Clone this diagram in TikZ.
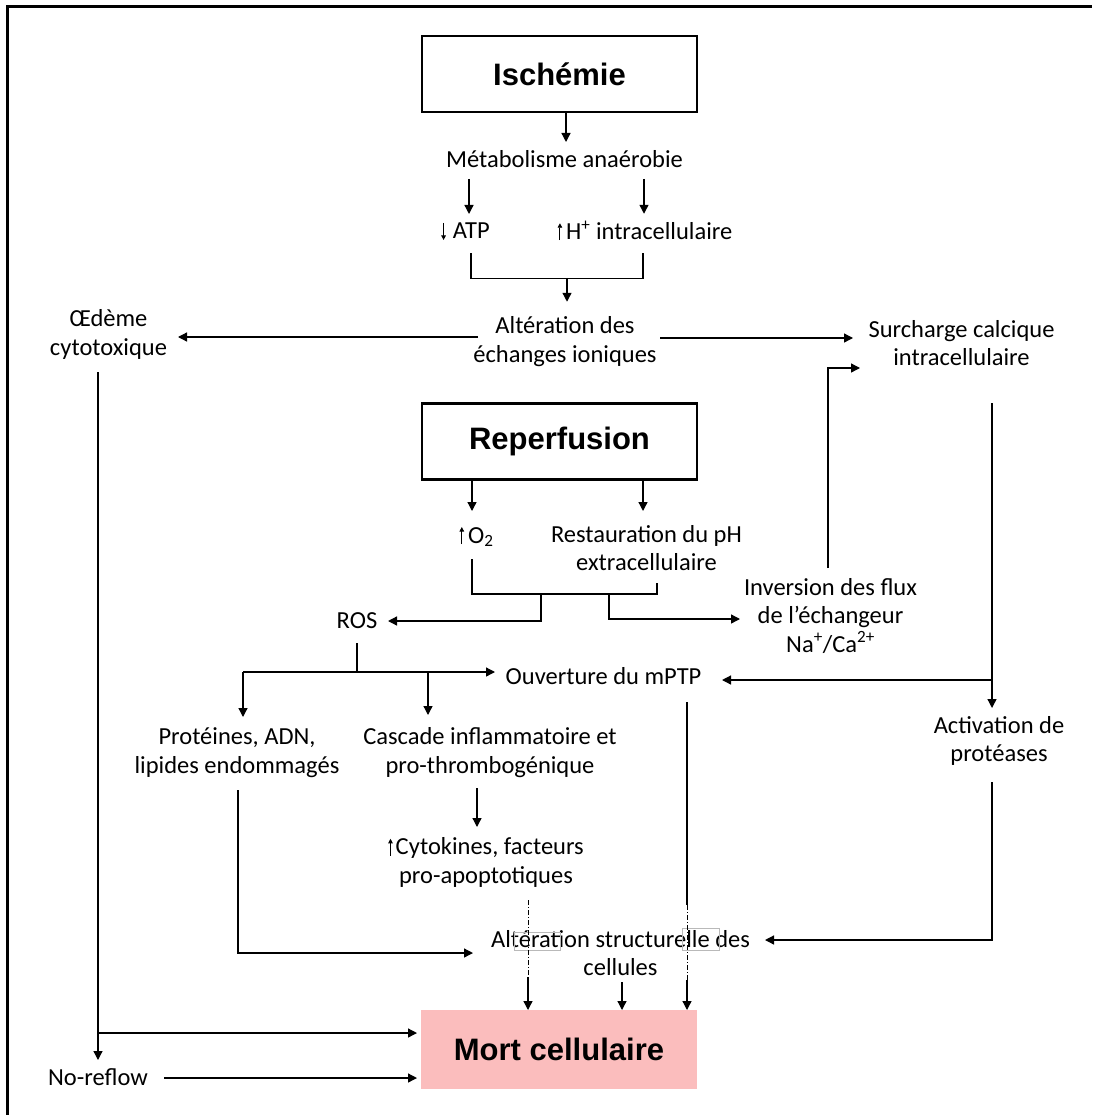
\documentclass[tikz,border=0pt]{standalone}
\usepackage{fontspec}
\setmainfont{Carlito}
\newfontfamily\titlefont{Liberation Sans}
\usetikzlibrary{arrows.meta,calc}
\definecolor{pinkbox}{RGB}{251,189,189}
\newcommand\mystrut{\rule[-6pt]{0pt}{24pt}}
\newcommand\uarr{\tikz[baseline=0pt]\draw[line width=0.9pt,-{Triangle[length=4.5pt,width=4.5pt]}] (0pt,-1pt)--(0pt,16pt);}
\newcommand\darr{\tikz[baseline=0pt]\draw[line width=0.9pt,-{Triangle[length=4.5pt,width=4.5pt]}] (0pt,16pt)--(0pt,-1pt);}
\begin{document}
\begin{tikzpicture}[x=1pt,y=-1pt,
 txt/.style={font=\fontsize{24.5}{28.5}\selectfont, align=center, inner sep=0pt, outer sep=0pt},
 titlebox/.style={line width=2.5pt, minimum width=275pt, minimum height=76pt, inner sep=0pt, font=\titlefont\bfseries\fontsize{31}{36}\selectfont},
 conn/.style={line width=1.3pt},
 arr/.style={conn, -{Triangle[length=9pt,width=9pt]}},
 dashc/.style={line width=0.8pt, dash pattern=on 5pt off 2pt on 1pt off 2pt},
 ghost/.style={draw=gray!55, line width=0.7pt}]
\useasboundingbox (0,0) rectangle (1092,1115);
\fill[white] (0,0) rectangle (1092,1115);
\draw[line width=3pt] (7,1115) -- (7,7) -- (1092,7);

% ---------- nodes ----------
\node[titlebox, draw] (isch) at (559.5,74) {Ischémie};
\node[txt] (meta) at (564.5,162) {\mystrut Métabolisme anaérobie};
\node[txt] (atp) at (465.5,233) {\mystrut\darr\hspace{7pt}ATP};
\node[txt] (hplus) at (645,233) {\mystrut\uarr\hspace{4pt}H\textsuperscript{+} intracellulaire};
\node[txt] (alt) at (565,342) {\mystrut Altération des\\\mystrut échanges ioniques};
\node[txt] (oedeme) at (108.5,335) {\mystrut Œdème\\\mystrut cytotoxique};
\node[txt] (surch) at (961.5,345.5) {\mystrut Surcharge calcique\\\mystrut intracellulaire};
\node[titlebox, draw] (rep) at (559.5,441.5) {Reperfusion};
\node[txt] (o2) at (476.5,537) {\mystrut\uarr\hspace{4pt}O\textsubscript{2}};
\node[txt] (resto) at (646.5,550.5) {\mystrut Restauration du pH\\\mystrut extracellulaire};
\node[txt] (inv) at (830.5,617.5) {\mystrut Inversion des flux\\\mystrut de l’échangeur\\\mystrut Na\textsuperscript{+}/Ca\textsuperscript{2+}};
\node[txt] (ros) at (357,622) {\mystrut ROS};
\node[txt] (mptp) at (603.5,678) {\mystrut Ouverture du mPTP};
\node[txt] (prot) at (237,753) {\mystrut Protéines, ADN,\\\mystrut lipides endommagés};
\node[txt] (casc) at (490,753) {\mystrut Cascade inflammatoire et\\\mystrut pro-thrombogénique};
\node[txt] (act) at (999,741.5) {\mystrut Activation de\\\mystrut protéases};
\node[txt] (cyto) at (486,863) {\mystrut\uarr\hspace{3pt}Cytokines, facteurs\\\mystrut pro-apoptotiques};
\node[txt] (struct) at (620.5,955.5) {\mystrut Altération structurelle des\\\mystrut cellules};
\node[titlebox, fill=pinkbox, minimum width=276pt, minimum height=79pt] (mort) at (559,1049.5) {Mort cellulaire};
\node[txt] (noreflow) at (98,1079) {\mystrut No-reflow};

% ghost text-box outlines
\draw[ghost] ($(struct)+(-106.5,-23.5)$) rectangle ($(struct)+(-60.5,-5.5)$);
\draw[ghost] ($(struct)+(61.5,-27.5)$) rectangle ($(struct)+(98.5,-5.5)$);

% ---------- ischemia connectors ----------
\draw[arr] ($(isch.south)+(6.5,0)$) -- ($(meta.north)+(1.5,-8)$);
\draw[arr] ($(meta.south)+(-95.5,5)$) -- ($(atp.north)+(3.5,-7)$);
\draw[arr] ($(meta.south)+(79.5,5)$) -- ($(hplus.north)+(-1,-7)$);
\draw[conn] ($(atp.south)+(5.5,8)$) |- ($(hplus.south)+(-2,33)$) -- ($(hplus.south)+(-2,8)$);
\coordinate (j1) at ($(alt.north)+(2,-38)$);
\draw[arr] (j1) -- ($(alt.north)+(2,-14)$);
\draw[arr] ($(alt)+(-87,-5)$) -- ($(oedeme)+(69.5,2)$);
\draw[arr] ($(alt)+(95,-4)$) -- ($(surch)+(-108.5,-7.5)$);
\draw[arr] ($(oedeme)+(-10.5,37)$) -- ($(noreflow)+(0,-19)$);
\draw[arr] ($(noreflow)+(0,-46)$) -- ($(mort)+(-142,-16.5)$);
\draw[arr] ($(noreflow)+(66,-1)$) -- ($(mort)+(-142,28.5)$);

% ---------- reperfusion connectors ----------
\draw[arr] ($(rep)+(-87.5,39.5)$) -- ($(o2)+(-4.5,-26)$);
\draw[arr] ($(rep)+(83.5,39.5)$) -- ($(resto)+(-3.5,-39.5)$);
\draw[conn] ($(o2)+(-4.5,22)$) |- ($(resto)+(10.5,43.5)$) -- ($(resto)+(10.5,32.5)$);
\draw[arr] ($(resto)+(-105.5,43.5)$) |- ($(ros)+(31,-1)$);
\draw[arr] ($(resto)+(-37.5,43.5)$) |- ($(inv)+(-90.5,1.5)$);
\draw[arr] ($(inv)+(-2.5,-49.5)$) |- ($(surch)+(-101.5,22.5)$);
\draw[arr] ($(surch)+(30.5,57.5)$) -- ($(act)+(-7,-33.5)$);
\draw[arr] ($(act)+(-7,-61.5)$) -- ($(mptp)+(118.5,2)$);
\draw[conn] ($(ros)+(0,21)$) -- ($(ros)+(0,50)$);
\draw[arr] ($(prot)+(6,-81)$) -- ($(mptp)+(-108.5,-6)$);
\draw[arr] ($(prot)+(6,-81)$) -- ($(prot)+(6,-36)$);
\draw[arr] ($(casc)+(-62,-81)$) -- ($(casc)+(-62,-38)$);
\draw[arr] ($(casc)+(-13,35)$) -- ($(cyto)+(-9,-36)$);
\draw[arr] ($(prot)+(1,37)$) |- ($(struct)+(-147.5,-2.5)$);
\draw[arr] ($(act)+(-7,40.5)$) |- ($(struct)+(144.5,-15.5)$);
\draw[dashc] ($(cyto)+(42,37)$) -- ($(cyto)+(42,114)$);
\draw[arr] ($(cyto)+(42,114)$) -- ($(mort)+(-31,-39.5)$);
\draw[arr] ($(struct)+(1.5,26.5)$) -- ($(mort)+(63,-39.5)$);
\draw[conn] ($(mptp)+(83.5,24)$) -- ($(mptp)+(83.5,227)$);
\draw[dashc] ($(mptp)+(83.5,227)$) -- ($(mptp)+(83.5,302)$);
\draw[arr] ($(mptp)+(83.5,302)$) -- ($(mort)+(128,-39.5)$);
\end{tikzpicture}
\end{document}
